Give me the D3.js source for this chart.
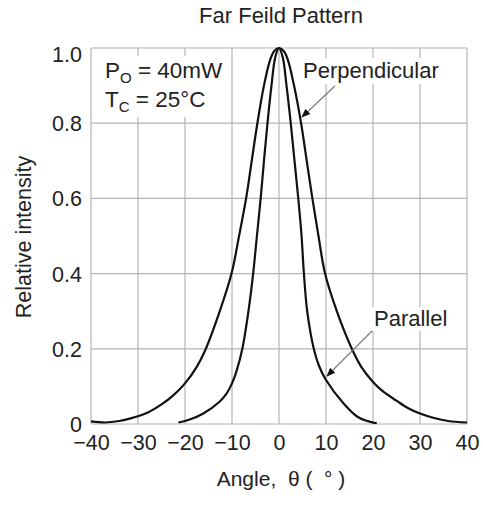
<!DOCTYPE html>
<html>
<head>
<meta charset="utf-8">
<script src="https://cdn.jsdelivr.net/npm/d3@7"></script>
<style>
  body { margin: 0; background: #fff; }
  svg { display: block; font-family: "Liberation Sans", Arial, sans-serif; }
</style>
</head>
<body>
<svg id="chart" width="483" height="508"></svg>
<script>
// ---- Data ----
const xTicks = [-40, -30, -20, -10, 0, 10, 20, 30, 40];
const xTickLabels = ["\u221240", "\u221230", "\u221220", "\u221210", "0", "10", "20", "30", "40"];
const yTicks = [0, 0.2, 0.4, 0.6, 0.8, 1.0];
const yTickLabels = ["0", "0.2", "0.4", "0.6", "0.8", "1.0"];

// Perpendicular (wide beam)
const perpAngle = [-40, -37, -34, -31, -28, -25, -22.5, -20, -17.5, -15.7, -12.6, -10.1, -8.5, -7, -5.8, -4.6, -3.2, -1.9, -1, 0,
                   1, 1.9, 3.2, 4.7, 5.9, 7.1, 8.4, 9.8, 12.3, 15.5, 17.5, 20, 22, 25, 27.5, 30, 33, 36, 40];
const perpValue = [0.007, 0.004, 0.008, 0.017, 0.03, 0.052, 0.076, 0.108, 0.152, 0.196, 0.3, 0.4, 0.5, 0.6, 0.7, 0.8, 0.9, 0.968, 0.992, 1.0,
                   0.992, 0.968, 0.9, 0.8, 0.7, 0.6, 0.5, 0.4, 0.3, 0.2, 0.152, 0.112, 0.088, 0.062, 0.042, 0.028, 0.016, 0.008, 0.004];

// Parallel (narrow beam)
const paraAngle = [-21.4, -19, -16.1, -12.6, -11.2, -10, -9, -7.8, -6.5, -5.5, -4.7, -3.9, -3.2, -2.45, -1.6, -0.8, 0,
                   0.8, 1.6, 2.5, 3.3, 4.1, 4.8, 5.3, 6.0, 7.4, 8.5, 10, 13.7, 16.6, 18.5, 20.8];
const paraValue = [0.004, 0.012, 0.028, 0.06, 0.08, 0.108, 0.142, 0.2, 0.3, 0.4, 0.5, 0.6, 0.7, 0.8, 0.9, 0.975, 1.0,
                   0.975, 0.9, 0.8, 0.7, 0.6, 0.5, 0.4, 0.3, 0.2, 0.155, 0.117, 0.055, 0.02, 0.009, 0.002];

// ---- Layout ----
const svg = d3.select("#chart");
const pL = 91, pR = 467, pT = 48, pB = 424;
const x = d3.scaleLinear().domain([-40, 40]).range([pL, pR]);
const y = d3.scaleLinear().domain([0, 1]).range([pB, pT]);

const gridColor = "#b4b4b4";
const textColor = "#222";

// Grid
const grid = svg.append("g");
grid.selectAll("line.v").data(xTicks).join("line").attr("class", "v")
  .attr("x1", d => x(d)).attr("x2", d => x(d))
  .attr("y1", pT).attr("y2", pB)
  .attr("stroke", gridColor).attr("stroke-width", 1.2);
grid.selectAll("line.h").data(yTicks).join("line").attr("class", "h")
  .attr("x1", pL).attr("x2", pR)
  .attr("y1", d => y(d)).attr("y2", d => y(d))
  .attr("stroke", gridColor).attr("stroke-width", 1.2);

// Axes (labels only, via d3 axis)
const xAxis = svg.append("g").attr("transform", `translate(0,${pB})`)
  .call(d3.axisBottom(x).tickValues(xTicks).tickFormat((d, i) => xTickLabels[i]).tickSize(0).tickPadding(11));
xAxis.select(".domain").remove();
xAxis.selectAll("text").attr("font-size", 21.5).attr("fill", textColor)
  .attr("font-family", "Liberation Sans, Arial, sans-serif");

const yAxis = svg.append("g").attr("transform", `translate(${pL},0)`)
  .call(d3.axisLeft(y).tickValues(yTicks).tickFormat((d, i) => yTickLabels[i]).tickSize(0).tickPadding(9));
yAxis.select(".domain").remove();
yAxis.selectAll("text").attr("font-size", 21.5).attr("fill", textColor)
  .attr("font-family", "Liberation Sans, Arial, sans-serif")
  .attr("dy", d => d === 1 ? "0.65em" : "0.35em");

// Annotation backgrounds (white boxes that interrupt the grid)
svg.append("rect").attr("x", 98).attr("y", 56).attr("width", 132).attr("height", 61).attr("fill", "#fff");
svg.append("rect").attr("x", 300).attr("y", 58).attr("width", 145).attr("height", 26).attr("fill", "#fff");
svg.append("rect").attr("x", 371).attr("y", 307).attr("width", 79).attr("height", 24).attr("fill", "#fff");

// Curves
const line = d3.line().x(d => x(d[0])).y(d => y(d[1])).curve(d3.curveCatmullRom.alpha(0.5));
svg.append("path").datum(d3.zip(perpAngle, perpValue))
  .attr("d", line).attr("fill", "none").attr("stroke", "#111").attr("stroke-width", 2.2);
svg.append("path").datum(d3.zip(paraAngle, paraValue))
  .attr("d", line).attr("fill", "none").attr("stroke", "#111").attr("stroke-width", 2.2);

// Arrow marker
svg.append("defs").append("marker")
  .attr("id", "ah").attr("viewBox", "0 0 10 10").attr("refX", 9).attr("refY", 5)
  .attr("markerWidth", 9).attr("markerHeight", 9).attr("markerUnits", "userSpaceOnUse")
  .attr("orient", "auto")
  .append("path").attr("d", "M0,1 L10,5 L0,9 Z").attr("fill", "#111");

svg.append("line").attr("x1", 335).attr("y1", 86).attr("x2", 302).attr("y2", 117)
  .attr("stroke", "#777").attr("stroke-width", 1.1).attr("marker-end", "url(#ah)");
svg.append("line").attr("x1", 372).attr("y1", 331).attr("x2", 327).attr("y2", 376)
  .attr("stroke", "#777").attr("stroke-width", 1.1).attr("marker-end", "url(#ah)");

// Texts
const T = (xx, yy, s, size, anchor) => svg.append("text").attr("x", xx).attr("y", yy)
  .attr("font-size", size).attr("fill", textColor).attr("text-anchor", anchor || "start").text(s);

T(281, 23, "Far Feild Pattern", 22, "middle");
T(303, 78, "Perpendicular", 22);
T(374, 326, "Parallel", 22);

const t1 = svg.append("text").attr("x", 105).attr("y", 78).attr("font-size", 22.5).attr("fill", textColor);
t1.append("tspan").text("P");
t1.append("tspan").attr("font-size", 15).attr("dy", 5).text("O");
t1.append("tspan").attr("dy", -5).text(" = 40mW");
const t2 = svg.append("text").attr("x", 105).attr("y", 107).attr("font-size", 22.5).attr("fill", textColor);
t2.append("tspan").text("T");
t2.append("tspan").attr("font-size", 15).attr("dy", 5).text("C");
t2.append("tspan").attr("dy", -5).text(" = 25\u00B0C");

T(281, 486, "Angle,  \u03B8 (  \u00B0 )", 21, "middle").attr("xml:space", "preserve").style("white-space", "pre");

svg.append("text").attr("transform", "translate(31,237) rotate(-90)")
  .attr("text-anchor", "middle").attr("font-size", 21.5).attr("fill", textColor)
  .text("Relative intensity");
</script>
</body>
</html>
